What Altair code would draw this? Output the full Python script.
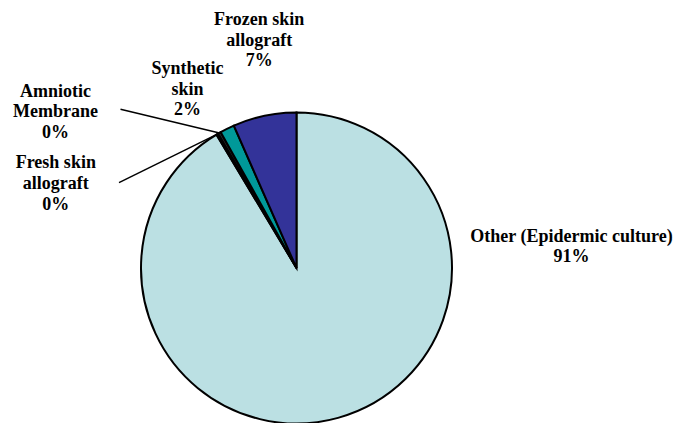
import altair as alt
import pandas as pd
import numpy as np

# Skin-substitute usage shares (percent of cases)
categories = [
    "Other (Epidermic culture)",
    "Fresh skin allograft",
    "Amniotic Membrane",
    "Synthetic skin",
    "Frozen skin allograft",
]
label_lines = [
    ["Other (Epidermic culture)"],
    ["Fresh skin", "allograft"],
    ["Amniotic", "Membrane"],
    ["Synthetic", "skin"],
    ["Frozen skin", "allograft"],
]
shares = [91.4, 0.2, 0.3, 1.5, 6.6]
colors = ["#BBE0E3", "#1A1A1A", "#2A2A2A", "#009999", "#333399"]

# Layout of the pie and its labels (pixels)
W, H = 685, 423
CX, CY, R = 296.5, 268.0, 155.5
LINE_H = 20.7
label_anchor = {
    "Other (Epidermic culture)": (571.5, 241.7),
    "Fresh skin allograft": (55.8, 168.3),
    "Amniotic Membrane": (55.5, 96.7),
    "Synthetic skin": (187.5, 74.0),
    "Frozen skin allograft": (259.2, 25.0),
}
leader_start = {
    "Amniotic Membrane": (120.5, 109.3),
    "Fresh skin allograft": (119.0, 182.7),
}

df = pd.DataFrame({"name": categories, "value": shares, "order": range(len(categories))})

# One text row per label line: the category name lines, then the rounded share
text_rows = []
for name, lines_, v in zip(categories, label_lines, shares):
    ax, ay = label_anchor[name]
    for i, line in enumerate(lines_ + [f"{int(v + 0.5)}%"]):
        text_rows.append({"name": name, "text": line, "lx": ax, "ly": ay + i * LINE_H})
text_df = pd.DataFrame(text_rows)

# Leader lines run from the label to the middle of the slice's outer edge
total = float(np.sum(shares))
ends = np.cumsum(shares) / total * 2 * np.pi
starts = ends - np.array(shares) / total * 2 * np.pi
mids = (starts + ends) / 2
lead_rows = []
for name, a in zip(categories, mids):
    if name in leader_start:
        sx, sy = leader_start[name]
        lead_rows.append({"name": name, "x": sx, "y": sy,
                          "x2": CX + R * np.sin(a), "y2": CY - R * np.cos(a)})
leaders = pd.DataFrame(lead_rows)

pie = alt.Chart(df).mark_arc(outerRadius=R, stroke="black", strokeWidth=2).encode(
    theta=alt.Theta("value:Q", stack=True),
    order=alt.Order("order:Q"),
    color=alt.Color("name:N", scale=alt.Scale(domain=categories, range=colors), legend=None),
    x=alt.value(CX),
    y=alt.value(CY),
)

lines = alt.Chart(leaders).mark_rule(color="black", strokeWidth=1.5).encode(
    x=alt.X("x:Q", scale=None),
    y=alt.Y("y:Q", scale=None),
    x2="x2:Q",
    y2="y2:Q",
)

labels = alt.Chart(text_df).mark_text(
    font="Liberation Serif",
    fontWeight="bold",
    fontSize=18,
    align="center",
    baseline="alphabetic",
    color="black",
).encode(
    x=alt.X("lx:Q", scale=None),
    y=alt.Y("ly:Q", scale=None),
    text="text:N",
)

chart = alt.layer(pie, lines, labels).properties(
    width=W,
    height=H,
    padding=0,
    autosize=alt.AutoSizeParams(type="none"),
    background="white",
).configure_view(stroke=None)

chart.save("out.html", embed_options={"renderer": "svg", "actions": False})
